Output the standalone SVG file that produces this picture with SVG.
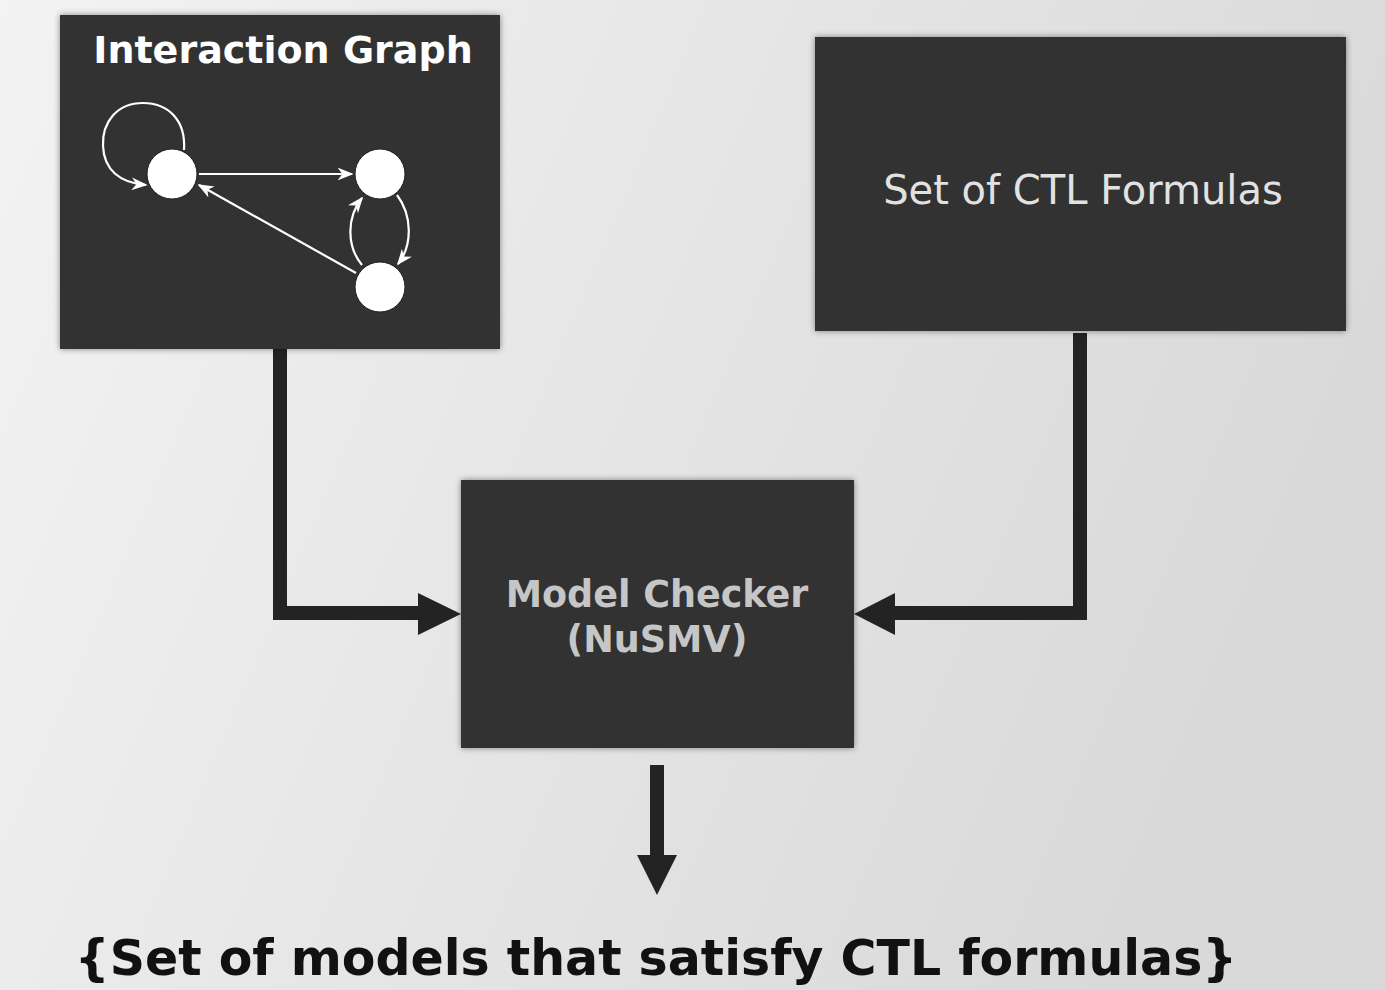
<svg xmlns="http://www.w3.org/2000/svg" width="1385" height="990" viewBox="0 0 1385 990">
  <defs>
    <linearGradient id="bg" x1="0" y1="0" x2="1" y2="0.3">
      <stop offset="0" stop-color="#f3f3f3"/>
      <stop offset="1" stop-color="#d9d9d9"/>
    </linearGradient>
    <filter id="sh" x="-5%" y="-5%" width="110%" height="110%">
      <feDropShadow dx="0" dy="0" stdDeviation="3" flood-color="#000" flood-opacity="0.45"/>
    </filter>
    <marker id="wa2" viewBox="0 0 10 10" refX="9" refY="5" markerWidth="16" markerHeight="16" markerUnits="userSpaceOnUse" orient="auto">
      <path d="M0,1 L10,5 L0,9 L3,5 Z" fill="#ffffff"/>
    </marker>
  </defs>
  <style>
    .box { fill: #333333; filter: url(#sh); }
    .conn { fill: none; stroke: #232323; stroke-width: 14; }
    .head { fill: #232323; }
    .edge { fill: none; stroke: #ffffff; stroke-width: 2.2; marker-end: url(#wa2); }
    .node { fill: #ffffff; stroke: #222; stroke-width: 1; }
  </style>
  <rect x="0" y="0" width="1385" height="990" fill="url(#bg)"/>

  <g id="connectors">
    <path class="conn" d="M280,349 L280,613 L420,613"/>
    <polygon class="head" points="418,593 461,614 418,635"/>
    <path class="conn" d="M1080,333 L1080,613 L892,613"/>
    <polygon class="head" points="895,593 854,614 895,635"/>
    <path class="conn" d="M657,765 L657,857"/>
    <polygon class="head" points="637,855 677,855 657,895"/>
  </g>

  <g id="interaction-graph">
    <rect class="box" x="60" y="15" width="440" height="334"/>
    <text x="283" y="63" text-anchor="middle" font-family="DejaVu Sans, sans-serif" font-weight="bold" font-size="38" fill="#ffffff">Interaction Graph</text>
    <g id="mini-graph">
      <path class="edge" d="M184,150 C186,120 168,103 143,103 C117,103 102,122 103,146 C104,170 120,183 146,185"/>
      <path class="edge" d="M199,174 L352,174"/>
      <path class="edge" d="M356,273 L199,185"/>
      <path class="edge" d="M397,195 C412,215 413,245 398,264"/>
      <path class="edge" d="M362,265 C347,247 346,218 362,198"/>
      <circle class="node" cx="172" cy="174" r="25"/>
      <circle class="node" cx="380" cy="174" r="25"/>
      <circle class="node" cx="380" cy="287" r="25"/>
    </g>
  </g>

  <g id="ctl-formulas">
    <rect class="box" x="815" y="37" width="531" height="294"/>
    <text x="1083" y="204" text-anchor="middle" font-family="DejaVu Sans, sans-serif" font-size="40" fill="#e2e2e2">Set of CTL Formulas</text>
  </g>

  <g id="model-checker">
    <rect class="box" x="461" y="480" width="393" height="268"/>
    <text x="657" y="607" text-anchor="middle" font-family="DejaVu Sans, sans-serif" font-weight="bold" font-size="36.5" fill="#c6c6c6">Model Checker</text>
    <text x="657" y="652" text-anchor="middle" font-family="DejaVu Sans, sans-serif" font-weight="bold" font-size="36.5" fill="#c6c6c6">(NuSMV)</text>
  </g>

  <g id="result">
    <text x="656" y="975" text-anchor="middle" font-family="DejaVu Sans, sans-serif" font-weight="bold" font-size="49" fill="#111111">{Set of models that satisfy CTL formulas}</text>
  </g>
</svg>
